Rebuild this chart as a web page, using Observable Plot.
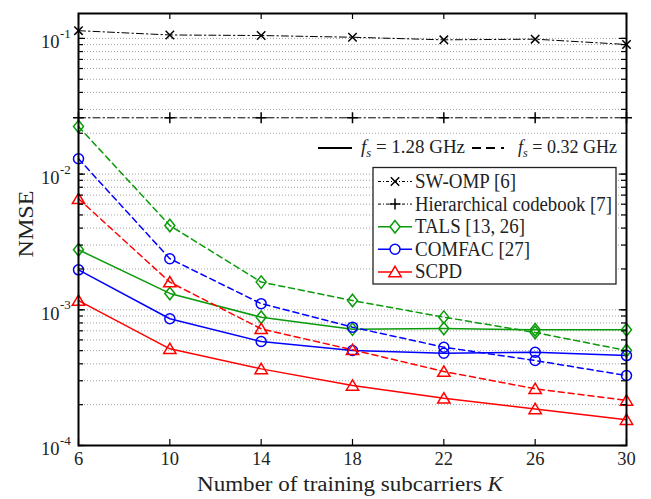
<!DOCTYPE html>
<html>
<head>
<meta charset="utf-8">
<script src="https://cdn.jsdelivr.net/npm/d3@7"></script>
<script src="https://cdn.jsdelivr.net/npm/@observablehq/plot@0.6"></script>
<style>
  html, body { margin: 0; padding: 0; background: #fff; }
  #chart { position: relative; width: 651px; height: 499px; }
  #chart svg { font-family: "Liberation Serif", "DejaVu Serif", serif; }
</style>
</head>
<body>
<div id="chart"></div>
<script>
// Number of training subcarriers K
const K = [6, 10, 14, 18, 22, 26, 30];

// NMSE per method (fs = 1.28 GHz solid, fs = 0.32 GHz dashed)
const swOmp        = [0.114, 0.106, 0.105, 0.102, 0.0976, 0.0987, 0.0902];
const hierarchical = [0.026, 0.026, 0.026, 0.026, 0.026, 0.026, 0.026];
const talsHigh     = [0.00277, 0.00132, 0.000882, 0.00072, 0.000727, 0.000713, 0.000713];
const talsLow      = [0.0224, 0.00418, 0.00160, 0.00117, 0.000883, 0.00068, 0.000501];
const comfacHigh   = [0.00197, 0.000859, 0.000584, 0.000501, 0.000478, 0.000487, 0.000460];
const comfacLow    = [0.01298, 0.00238, 0.00111, 0.000745, 0.000530, 0.000423, 0.000328];
const scpdHigh     = [0.00117, 0.000516, 0.000367, 0.000277, 0.000223, 0.000186, 0.000155];
const scpdLow      = [0.00658, 0.00160, 0.000724, 0.000507, 0.000351, 0.000262, 0.000215];

const xTicks = [6, 10, 14, 18, 22, 26, 30];
const yMajor = [1e-4, 1e-3, 1e-2, 1e-1];
const yMajorExp = ["-4", "-3", "-2", "-1"];
const methods = ["SW-OMP [6]", "Hierarchical codebook [7]", "TALS [13, 26]", "COMFAC [27]", "SCPD"];

// Minor log grid: 1..9 × each decade from 1e-4 to 1e-2, plus 0.1
const yGrid = [];
for (const d of [1e-4, 1e-3, 1e-2]) for (let m = 1; m <= 9; m++) yGrid.push(+(m * d).toPrecision(3));
yGrid.push(0.1);

// ---- Marker shapes (r is the half-extent in px) ----
const rad = (size) => Math.sqrt(size / Math.PI);
const symTimes = { draw(c, s) { const r = rad(s); c.moveTo(-r, -r); c.lineTo(r, r); c.moveTo(-r, r); c.lineTo(r, -r); } };
const symPlus = { draw(c, s) { const r = rad(s); c.moveTo(-r, 0); c.lineTo(r, 0); c.moveTo(0, -r); c.lineTo(0, r); } };
const symDiamond = { draw(c, s) { const r = rad(s); const h = r * 1.25; c.moveTo(0, -h); c.lineTo(r, 0); c.lineTo(0, h); c.lineTo(-r, 0); c.closePath(); } };
const symCircle = { draw(c, s) { const r = rad(s); c.moveTo(r, 0); c.arc(0, 0, r, 0, 2 * Math.PI); } };
const symTriangle = { draw(c, s) { const r = rad(s); c.moveTo(0, -r); c.lineTo(r * 1.1, r * 0.85); c.lineTo(-r * 1.1, r * 0.85); c.closePath(); } };

const dashDot = "7,3,1.5,3";
const dashed = "6,4";
const green = "#0a9a0a";

const style = {
  "SW-OMP [6]": { stroke: "#000", symbol: symTimes, r: 4.2, lw: 1 },
  "Hierarchical codebook [7]": { stroke: "#000", symbol: symPlus, r: 5.5, lw: 1 },
  "TALS [13, 26]": { stroke: green, symbol: symDiamond, r: 5, lw: 1.5 },
  "COMFAC [27]": { stroke: "#0000ff", symbol: symCircle, r: 5, lw: 1.5 },
  "SCPD": { stroke: "#ff0000", symbol: symTriangle, r: 5.6, lw: 1.5 }
};

const rows = (method, rate, vals) => K.map((k, i) => ({ k, v: vals[i], method, rate }));
const curves = [
  { method: methods[0], rate: "low", data: rows(methods[0], "low", swOmp), dash: dashDot },
  { method: methods[1], rate: "low", data: rows(methods[1], "low", hierarchical), dash: dashDot },
  { method: methods[2], rate: "high", data: rows(methods[2], "high", talsHigh), dash: null },
  { method: methods[2], rate: "low", data: rows(methods[2], "low", talsLow), dash: dashed },
  { method: methods[3], rate: "high", data: rows(methods[3], "high", comfacHigh), dash: null },
  { method: methods[3], rate: "low", data: rows(methods[3], "low", comfacLow), dash: dashed },
  { method: methods[4], rate: "high", data: rows(methods[4], "high", scpdHigh), dash: null },
  { method: methods[4], rate: "low", data: rows(methods[4], "low", scpdLow), dash: dashed }
];

const W = 651, H = 499;
const M = { left: 78, right: 25, top: 13, bottom: 54 };
const PW = W - M.left - M.right, PH = H - M.top - M.bottom;

const marks = [
  Plot.ruleY(yGrid, { stroke: "#8a8a8a", strokeWidth: 0.8, strokeDasharray: "1,2" })
];
for (const c of curves) {
  const st = style[c.method];
  marks.push(Plot.line(c.data, {
    x: "k", y: "v", stroke: st.stroke, strokeWidth: st.lw,
    strokeDasharray: c.dash || undefined
  }));
}
for (const c of curves) {
  const st = style[c.method];
  marks.push(Plot.dot(c.data, {
    x: "k", y: "v", symbol: st.symbol, r: st.r, fill: "none",
    stroke: st.stroke, strokeWidth: 1.5
  }));
}
marks.push(
  // inward ticks on all four sides
  Plot.ruleY(yGrid, { stroke: "#000", strokeWidth: 1.2, insetRight: PW - 5 }),
  Plot.ruleY(yGrid, { stroke: "#000", strokeWidth: 1.2, insetLeft: PW - 5 }),
  Plot.ruleY(yMajor, { stroke: "#000", strokeWidth: 1.2, insetRight: PW - 7 }),
  Plot.ruleY(yMajor, { stroke: "#000", strokeWidth: 1.2, insetLeft: PW - 7 }),
  Plot.ruleX(xTicks, { stroke: "#000", strokeWidth: 1.2, insetBottom: PH - 6 }),
  Plot.ruleX(xTicks, { stroke: "#000", strokeWidth: 1.2, insetTop: PH - 6 }),
  Plot.frame({ stroke: "#000", strokeWidth: 2 }),
  // tick labels
  Plot.text(xTicks, { x: (d) => d, frameAnchor: "bottom", dy: 19, text: (d) => String(d), fontSize: 18.5, fill: "#222" }),
  Plot.text(yMajor, { y: (d) => d, frameAnchor: "left", dx: -19, dy: 4, text: () => "10", textAnchor: "end", fontSize: 18.5, fill: "#222" }),
  Plot.text(yMajor, { y: (d) => d, frameAnchor: "left", dx: -18.5, dy: -4.5, text: (d, i) => yMajorExp[i], textAnchor: "start", fontSize: 13, fill: "#222" })
);

const chart = Plot.plot({
  width: W, height: H,
  marginLeft: M.left, marginRight: M.right, marginTop: M.top, marginBottom: M.bottom,
  style: { fontFamily: "Liberation Serif, serif", background: "#fff", overflow: "visible" },
  x: { domain: [6, 30], axis: null },
  y: { type: "log", domain: [1e-4, 0.1526], axis: null },
  marks
});
document.getElementById("chart").appendChild(chart);

// ---- Axis titles and legends drawn into the same SVG ----
const svg = d3.select(chart);
const serif = "Liberation Serif, serif";

// x-axis title
const xt = svg.append("text")
  .attr("x", 197).attr("y", 491).attr("text-anchor", "start")
  .attr("textLength", 306).attr("lengthAdjust", "spacingAndGlyphs")
  .attr("font-family", serif).attr("font-size", 20).attr("fill", "#222");
xt.append("tspan").text("Number of training subcarriers ");
xt.append("tspan").attr("font-style", "italic").text("K");

// y-axis title
svg.append("text")
  .attr("transform", "translate(33,224) rotate(-90)")
  .attr("text-anchor", "middle").attr("font-family", serif).attr("font-size", 22).attr("fill", "#222")
  .attr("textLength", 67).attr("lengthAdjust", "spacingAndGlyphs")
  .text("NMSE");

// sampling-rate legend (line style)
const fsY = 148;
const fsG = svg.append("g").attr("font-family", serif).attr("font-size", 18).attr("fill", "#222").attr("text-anchor", "start");
fsG.append("line").attr("x1", 318).attr("x2", 352).attr("y1", fsY).attr("y2", fsY).attr("stroke", "#000").attr("stroke-width", 2);
function fsLabel(x, value, len) {
  const t = fsG.append("text").attr("x", x).attr("y", fsY + 5)
    .attr("textLength", len).attr("lengthAdjust", "spacingAndGlyphs");
  t.append("tspan").attr("font-style", "italic").text("f");
  t.append("tspan").attr("font-style", "italic").attr("font-size", 12).attr("dy", 4).text("s");
  t.append("tspan").attr("dy", -4).text(` = ${value} GHz`);
}
fsLabel(361, "1.28", 104);
fsG.append("line").attr("x1", 472).attr("x2", 511).attr("y1", fsY).attr("y2", fsY).attr("stroke", "#000").attr("stroke-width", 2).attr("stroke-dasharray", "9,5,9,6,3,40");
fsLabel(518, "0.32", 99);

// method legend (marker + colour)
const legendWidths = [101, 197, 110, 115, 47];
const lg = svg.append("g").attr("text-anchor", "start");
lg.append("rect").attr("x", 373).attr("y", 167.5).attr("width", 243).attr("height", 116.5)
  .attr("fill", "#fff").attr("stroke", "#222").attr("stroke-width", 1.3);
methods.forEach((m, i) => {
  const st = style[m];
  const y = 181.5 + i * 22.6;
  lg.append("line").attr("x1", 378).attr("x2", 412).attr("y1", y).attr("y2", y)
    .attr("stroke", st.stroke).attr("stroke-width", st.lw)
    .attr("stroke-dasharray", i < 2 ? "3,2,1,2" : null);
  lg.append("path").attr("transform", `translate(395,${y})`)
    .attr("d", d3.symbol().type(st.symbol).size(Math.PI * st.r * st.r)())
    .attr("fill", i < 2 ? "none" : "#fff").attr("stroke", st.stroke).attr("stroke-width", 1.5);
  lg.append("text").attr("x", 415).attr("y", y + 6.5)
    .attr("textLength", legendWidths[i]).attr("lengthAdjust", "spacingAndGlyphs")
    .attr("font-family", serif).attr("font-size", 20).attr("fill", "#222").text(m);
});
</script>
</body>
</html>
